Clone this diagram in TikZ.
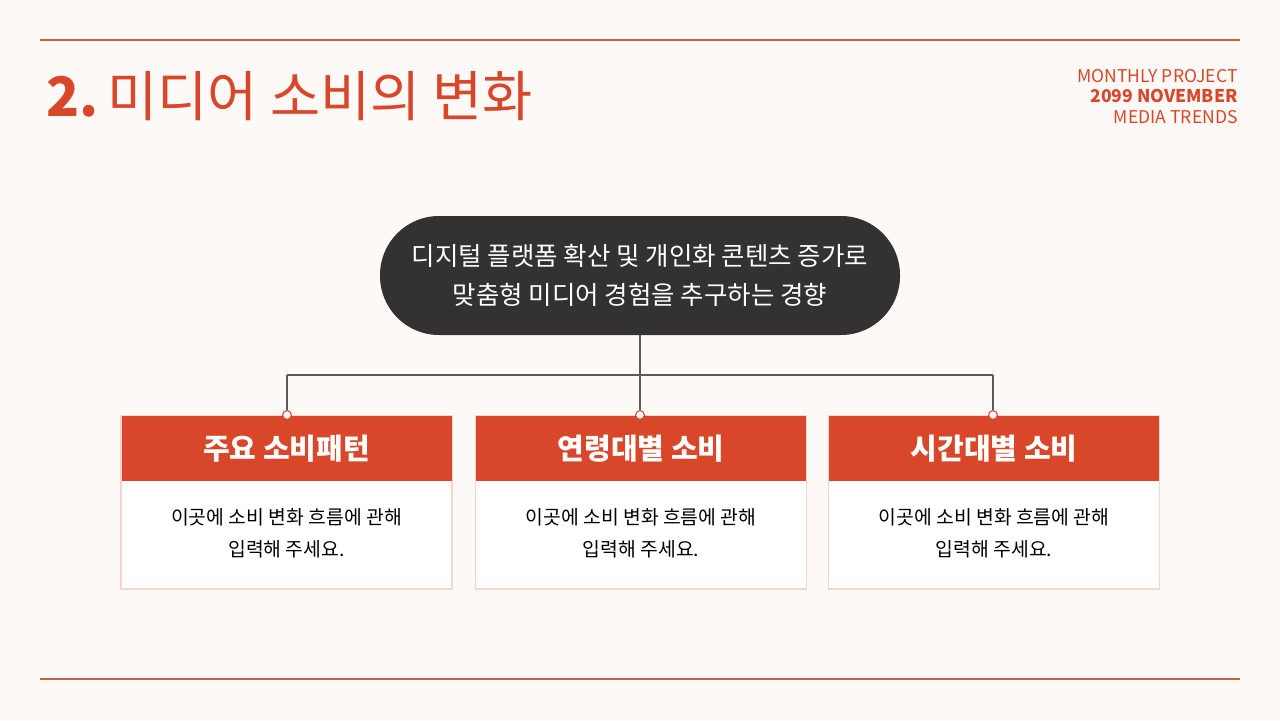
\documentclass[tikz,border=0pt]{standalone}
\usepackage{fontspec}
\setmainfont{Noto Sans CJK KR}
\definecolor{bg}{HTML}{FDF9F7}
\definecolor{org}{HTML}{D9472A}
\definecolor{rule}{HTML}{C8613F}
\definecolor{dark}{HTML}{333230}
\definecolor{bord}{HTML}{F5D5CC}
\tikzset{
  hdr/.style={fill=org,draw=none},
  body/.style={fill=white,draw=bord,line width=0.6pt},
  htxt/.style={text=white,font=\fontsize{16.5}{20}\selectfont\bfseries},
  btxt/.style={text=black,font=\fontsize{11}{18}\selectfont,align=center},
  dot/.style={circle,fill=white,draw=org,line width=0.6pt,inner sep=0pt,minimum size=5pt},
  conn/.style={draw=dark!80,line width=0.7pt}
}
\begin{document}
\begin{tikzpicture}[x=0.02cm,y=-0.02cm]
\useasboundingbox (0,0) rectangle (1280,720);
\fill[bg] (0,0) rectangle (1280,720);
\draw[rule,line width=0.8pt] (40,40) -- (1240,40);
\draw[rule,line width=0.8pt] (40,679) -- (1240,679);
\node[anchor=west,text=org,inner sep=0,font=\fontsize{31}{36}\selectfont] (title) at (46,96) {\textbf{2.}\,미디어 소비의 변화};
\node[anchor=east,text=org,inner sep=0,font=\fontsize{10}{12}\selectfont] (r1) at (1238,76) {MONTHLY PROJECT};
\node[anchor=east,text=org,inner sep=0,font=\fontsize{10}{12}\selectfont\bfseries] (r2) at (1238,96) {2099 NOVEMBER};
\node[anchor=east,text=org,inner sep=0,font=\fontsize{10}{12}\selectfont] (r3) at (1238,117) {MEDIA TRENDS};
\node[fill=dark,rounded rectangle/.style={},minimum width=520*0.02cm,minimum height=119*0.02cm,rounded corners=59*0.02cm,text=white,align=center,font=\fontsize{14.5}{22}\selectfont] (pill) at (640,275.5) {디지털 플랫폼 확산 및 개인화 콘텐츠 증가로\\맞춤형 미디어 경험을 추구하는 경향};
\coordinate (j) at (640,375);
\coordinate (jl) at (287,375);
\coordinate (jr) at (993,375);
\foreach \n/\x/\t in {a/286.5/주요 소비패턴, b/641/연령대별 소비, c/994/시간대별 소비}{
  \draw[body] (\x-165.5,416) rectangle (\x+165.5,589);
  \fill[hdr] (\x-165,416) rectangle (\x+165,481);
  \node[htxt] (h\n) at (\x,449) {\t};
  \node[btxt] (b\n) at (\x,533) {이곳에 소비 변화 흐름에 관해\\입력해 주세요.};
}
\node[dot] (da) at (287,415) {};
\node[dot] (db) at (640,415) {};
\node[dot] (dc) at (993,415) {};
\draw[conn] (pill.south) -- (j);
\draw[conn] (jl) -- (jr);
\draw[conn] (jl) -- (da.north);
\draw[conn] (j) -- (db.north);
\draw[conn] (jr) -- (dc.north);
\end{tikzpicture}
\end{document}
